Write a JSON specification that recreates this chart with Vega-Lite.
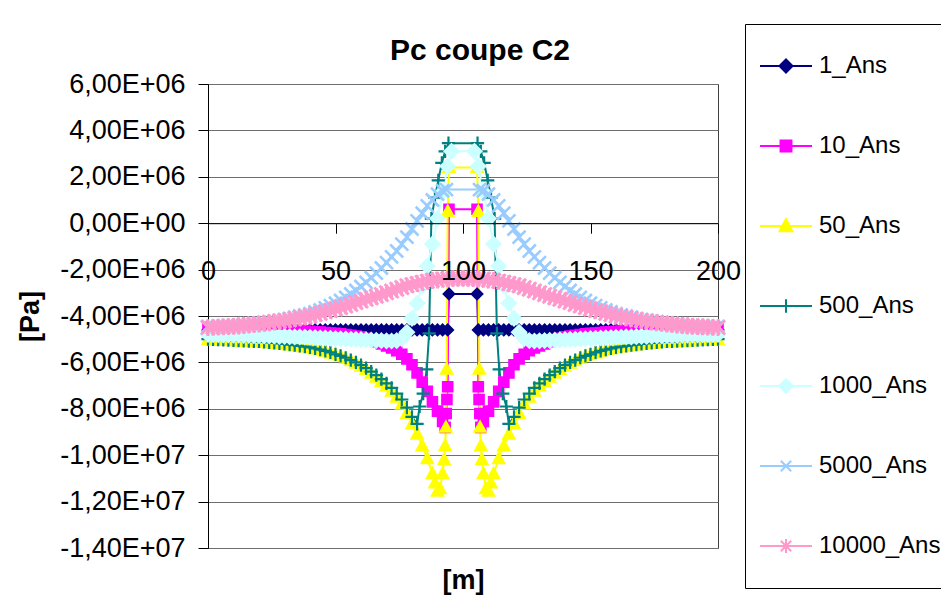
{
"$schema": "https://vega.github.io/schema/vega-lite/v6.json",
"width": 510, "height": 464,
"autosize": "none",
"padding": {"left": 208, "top": 84, "right": 223, "bottom": 58},
"background": "white",
"title": {"text": "Pc coupe C2", "fontSize": 30, "fontWeight": "bold", "font": "Liberation Sans", "color": "black", "anchor": "middle", "frame": "group", "offset": -42, "dx": 17},
"data": {"values": [
{"s":"1_Ans","x":0,"y":-4.6e6},{"s":"1_Ans","x":2,"y":-4.6e6},{"s":"1_Ans","x":4,"y":-4.6e6},{"s":"1_Ans","x":6,"y":-4.6e6},{"s":"1_Ans","x":8,"y":-4.6e6},{"s":"1_Ans","x":10,"y":-4.6e6},{"s":"1_Ans","x":12,"y":-4.6e6},{"s":"1_Ans","x":14,"y":-4.6e6},{"s":"1_Ans","x":16,"y":-4.6e6},{"s":"1_Ans","x":18,"y":-4.6e6},{"s":"1_Ans","x":20,"y":-4.6e6},{"s":"1_Ans","x":22,"y":-4.6e6},{"s":"1_Ans","x":24,"y":-4.6e6},{"s":"1_Ans","x":26,"y":-4.6e6},{"s":"1_Ans","x":28,"y":-4.6e6},{"s":"1_Ans","x":30,"y":-4.6e6},{"s":"1_Ans","x":32,"y":-4.6e6},{"s":"1_Ans","x":34,"y":-4.6e6},{"s":"1_Ans","x":36,"y":-4.6e6},{"s":"1_Ans","x":38,"y":-4.6e6},{"s":"1_Ans","x":40,"y":-4.6e6},{"s":"1_Ans","x":42,"y":-4.6e6},{"s":"1_Ans","x":44,"y":-4.6e6},{"s":"1_Ans","x":46,"y":-4.6e6},{"s":"1_Ans","x":48,"y":-4.6e6},{"s":"1_Ans","x":50,"y":-4.6e6},{"s":"1_Ans","x":52,"y":-4.6e6},{"s":"1_Ans","x":54,"y":-4.6e6},{"s":"1_Ans","x":56,"y":-4.6e6},{"s":"1_Ans","x":58,"y":-4.6e6},{"s":"1_Ans","x":60,"y":-4.6e6},{"s":"1_Ans","x":62,"y":-4.6e6},{"s":"1_Ans","x":64,"y":-4.6e6},{"s":"1_Ans","x":66,"y":-4.6e6},{"s":"1_Ans","x":68,"y":-4.6e6},{"s":"1_Ans","x":70,"y":-4.6e6},{"s":"1_Ans","x":72,"y":-4.6e6},{"s":"1_Ans","x":74,"y":-4.6e6},{"s":"1_Ans","x":76,"y":-4.6e6},{"s":"1_Ans","x":78,"y":-4.6e6},{"s":"1_Ans","x":80,"y":-4.6e6},{"s":"1_Ans","x":82,"y":-4.6e6},{"s":"1_Ans","x":84,"y":-4.6e6},{"s":"1_Ans","x":86,"y":-4.6e6},{"s":"1_Ans","x":88,"y":-4.6e6},{"s":"1_Ans","x":90,"y":-4.6e6},{"s":"1_Ans","x":92,"y":-4.6e6},{"s":"1_Ans","x":94,"y":-4.6e6},{"s":"1_Ans","x":94.5,"y":-3.05e6},{"s":"1_Ans","x":105.5,"y":-3.05e6},{"s":"1_Ans","x":106,"y":-4.6e6},{"s":"1_Ans","x":108,"y":-4.6e6},{"s":"1_Ans","x":110,"y":-4.6e6},{"s":"1_Ans","x":112,"y":-4.6e6},{"s":"1_Ans","x":114,"y":-4.6e6},{"s":"1_Ans","x":116,"y":-4.6e6},{"s":"1_Ans","x":118,"y":-4.6e6},{"s":"1_Ans","x":120,"y":-4.6e6},{"s":"1_Ans","x":122,"y":-4.6e6},{"s":"1_Ans","x":124,"y":-4.6e6},{"s":"1_Ans","x":126,"y":-4.6e6},{"s":"1_Ans","x":128,"y":-4.6e6},{"s":"1_Ans","x":130,"y":-4.6e6},{"s":"1_Ans","x":132,"y":-4.6e6},{"s":"1_Ans","x":134,"y":-4.6e6},{"s":"1_Ans","x":136,"y":-4.6e6},{"s":"1_Ans","x":138,"y":-4.6e6},{"s":"1_Ans","x":140,"y":-4.6e6},{"s":"1_Ans","x":142,"y":-4.6e6},{"s":"1_Ans","x":144,"y":-4.6e6},{"s":"1_Ans","x":146,"y":-4.6e6},{"s":"1_Ans","x":148,"y":-4.6e6},{"s":"1_Ans","x":150,"y":-4.6e6},{"s":"1_Ans","x":152,"y":-4.6e6},{"s":"1_Ans","x":154,"y":-4.6e6},{"s":"1_Ans","x":156,"y":-4.6e6},{"s":"1_Ans","x":158,"y":-4.6e6},{"s":"1_Ans","x":160,"y":-4.6e6},{"s":"1_Ans","x":162,"y":-4.6e6},{"s":"1_Ans","x":164,"y":-4.6e6},{"s":"1_Ans","x":166,"y":-4.6e6},{"s":"1_Ans","x":168,"y":-4.6e6},{"s":"1_Ans","x":170,"y":-4.6e6},{"s":"1_Ans","x":172,"y":-4.6e6},{"s":"1_Ans","x":174,"y":-4.6e6},{"s":"1_Ans","x":176,"y":-4.6e6},{"s":"1_Ans","x":178,"y":-4.6e6},{"s":"1_Ans","x":180,"y":-4.6e6},{"s":"1_Ans","x":182,"y":-4.6e6},{"s":"1_Ans","x":184,"y":-4.6e6},{"s":"1_Ans","x":186,"y":-4.6e6},{"s":"1_Ans","x":188,"y":-4.6e6},{"s":"1_Ans","x":190,"y":-4.6e6},{"s":"1_Ans","x":192,"y":-4.6e6},{"s":"1_Ans","x":194,"y":-4.6e6},{"s":"1_Ans","x":196,"y":-4.6e6},{"s":"1_Ans","x":198,"y":-4.6e6},{"s":"1_Ans","x":200,"y":-4.6e6},
{"s":"10_Ans","x":0,"y":-4.5e6},{"s":"10_Ans","x":2,"y":-4.5e6},{"s":"10_Ans","x":4,"y":-4.51e6},{"s":"10_Ans","x":6,"y":-4.51e6},{"s":"10_Ans","x":8,"y":-4.52e6},{"s":"10_Ans","x":10,"y":-4.52e6},{"s":"10_Ans","x":12,"y":-4.53e6},{"s":"10_Ans","x":14,"y":-4.53e6},{"s":"10_Ans","x":16,"y":-4.54e6},{"s":"10_Ans","x":18,"y":-4.54e6},{"s":"10_Ans","x":20,"y":-4.55e6},{"s":"10_Ans","x":22,"y":-4.56e6},{"s":"10_Ans","x":24,"y":-4.57e6},{"s":"10_Ans","x":26,"y":-4.58e6},{"s":"10_Ans","x":28,"y":-4.59e6},{"s":"10_Ans","x":30,"y":-4.6e6},{"s":"10_Ans","x":32,"y":-4.61e6},{"s":"10_Ans","x":34,"y":-4.62e6},{"s":"10_Ans","x":36,"y":-4.63e6},{"s":"10_Ans","x":38,"y":-4.65e6},{"s":"10_Ans","x":40,"y":-4.66e6},{"s":"10_Ans","x":42,"y":-4.68e6},{"s":"10_Ans","x":44,"y":-4.69e6},{"s":"10_Ans","x":46,"y":-4.71e6},{"s":"10_Ans","x":48,"y":-4.73e6},{"s":"10_Ans","x":50,"y":-4.75e6},{"s":"10_Ans","x":52,"y":-4.77e6},{"s":"10_Ans","x":54,"y":-4.8e6},{"s":"10_Ans","x":56,"y":-4.83e6},{"s":"10_Ans","x":58,"y":-4.86e6},{"s":"10_Ans","x":60,"y":-4.9e6},{"s":"10_Ans","x":62,"y":-4.96e6},{"s":"10_Ans","x":64,"y":-5.03e6},{"s":"10_Ans","x":66,"y":-5.11e6},{"s":"10_Ans","x":68,"y":-5.2e6},{"s":"10_Ans","x":70,"y":-5.29e6},{"s":"10_Ans","x":72,"y":-5.38e6},{"s":"10_Ans","x":74,"y":-5.5e6},{"s":"10_Ans","x":76,"y":-5.65e6},{"s":"10_Ans","x":78,"y":-5.85e6},{"s":"10_Ans","x":80,"y":-6.1e6},{"s":"10_Ans","x":82,"y":-6.45e6},{"s":"10_Ans","x":84,"y":-6.85e6},{"s":"10_Ans","x":86,"y":-7.25e6},{"s":"10_Ans","x":88,"y":-7.7e6},{"s":"10_Ans","x":90,"y":-8.1e6},{"s":"10_Ans","x":92,"y":-8.55e6},{"s":"10_Ans","x":93,"y":-8.8e6},{"s":"10_Ans","x":93.4,"y":-8.2e6},{"s":"10_Ans","x":93.7,"y":-7.6e6},{"s":"10_Ans","x":94,"y":-7.05e6},{"s":"10_Ans","x":94.5,"y":0.6e6},{"s":"10_Ans","x":105.5,"y":0.6e6},{"s":"10_Ans","x":106,"y":-7.05e6},{"s":"10_Ans","x":106.3,"y":-7.6e6},{"s":"10_Ans","x":106.6,"y":-8.2e6},{"s":"10_Ans","x":107,"y":-8.8e6},{"s":"10_Ans","x":108,"y":-8.55e6},{"s":"10_Ans","x":110,"y":-8.1e6},{"s":"10_Ans","x":112,"y":-7.7e6},{"s":"10_Ans","x":114,"y":-7.25e6},{"s":"10_Ans","x":116,"y":-6.85e6},{"s":"10_Ans","x":118,"y":-6.45e6},{"s":"10_Ans","x":120,"y":-6.1e6},{"s":"10_Ans","x":122,"y":-5.85e6},{"s":"10_Ans","x":124,"y":-5.65e6},{"s":"10_Ans","x":126,"y":-5.5e6},{"s":"10_Ans","x":128,"y":-5.38e6},{"s":"10_Ans","x":130,"y":-5.29e6},{"s":"10_Ans","x":132,"y":-5.2e6},{"s":"10_Ans","x":134,"y":-5.11e6},{"s":"10_Ans","x":136,"y":-5.03e6},{"s":"10_Ans","x":138,"y":-4.96e6},{"s":"10_Ans","x":140,"y":-4.9e6},{"s":"10_Ans","x":142,"y":-4.86e6},{"s":"10_Ans","x":144,"y":-4.83e6},{"s":"10_Ans","x":146,"y":-4.8e6},{"s":"10_Ans","x":148,"y":-4.77e6},{"s":"10_Ans","x":150,"y":-4.75e6},{"s":"10_Ans","x":152,"y":-4.73e6},{"s":"10_Ans","x":154,"y":-4.71e6},{"s":"10_Ans","x":156,"y":-4.69e6},{"s":"10_Ans","x":158,"y":-4.68e6},{"s":"10_Ans","x":160,"y":-4.66e6},{"s":"10_Ans","x":162,"y":-4.65e6},{"s":"10_Ans","x":164,"y":-4.63e6},{"s":"10_Ans","x":166,"y":-4.62e6},{"s":"10_Ans","x":168,"y":-4.61e6},{"s":"10_Ans","x":170,"y":-4.6e6},{"s":"10_Ans","x":172,"y":-4.59e6},{"s":"10_Ans","x":174,"y":-4.58e6},{"s":"10_Ans","x":176,"y":-4.57e6},{"s":"10_Ans","x":178,"y":-4.56e6},{"s":"10_Ans","x":180,"y":-4.55e6},{"s":"10_Ans","x":182,"y":-4.54e6},{"s":"10_Ans","x":184,"y":-4.54e6},{"s":"10_Ans","x":186,"y":-4.53e6},{"s":"10_Ans","x":188,"y":-4.53e6},{"s":"10_Ans","x":190,"y":-4.52e6},{"s":"10_Ans","x":192,"y":-4.52e6},{"s":"10_Ans","x":194,"y":-4.51e6},{"s":"10_Ans","x":196,"y":-4.51e6},{"s":"10_Ans","x":198,"y":-4.5e6},{"s":"10_Ans","x":200,"y":-4.5e6},
{"s":"50_Ans","x":0,"y":-5.02e6},{"s":"50_Ans","x":2,"y":-5.03e6},{"s":"50_Ans","x":4,"y":-5.04e6},{"s":"50_Ans","x":6,"y":-5.05e6},{"s":"50_Ans","x":8,"y":-5.06e6},{"s":"50_Ans","x":10,"y":-5.07e6},{"s":"50_Ans","x":12,"y":-5.08e6},{"s":"50_Ans","x":14,"y":-5.09e6},{"s":"50_Ans","x":16,"y":-5.1e6},{"s":"50_Ans","x":18,"y":-5.11e6},{"s":"50_Ans","x":20,"y":-5.12e6},{"s":"50_Ans","x":22,"y":-5.14e6},{"s":"50_Ans","x":24,"y":-5.16e6},{"s":"50_Ans","x":26,"y":-5.18e6},{"s":"50_Ans","x":28,"y":-5.2e6},{"s":"50_Ans","x":30,"y":-5.22e6},{"s":"50_Ans","x":32,"y":-5.25e6},{"s":"50_Ans","x":34,"y":-5.28e6},{"s":"50_Ans","x":36,"y":-5.31e6},{"s":"50_Ans","x":38,"y":-5.34e6},{"s":"50_Ans","x":40,"y":-5.37e6},{"s":"50_Ans","x":42,"y":-5.42e6},{"s":"50_Ans","x":44,"y":-5.47e6},{"s":"50_Ans","x":46,"y":-5.52e6},{"s":"50_Ans","x":48,"y":-5.59e6},{"s":"50_Ans","x":50,"y":-5.67e6},{"s":"50_Ans","x":52,"y":-5.74e6},{"s":"50_Ans","x":54,"y":-5.83e6},{"s":"50_Ans","x":56,"y":-5.93e6},{"s":"50_Ans","x":58,"y":-6.04e6},{"s":"50_Ans","x":60,"y":-6.17e6},{"s":"50_Ans","x":62,"y":-6.31e6},{"s":"50_Ans","x":64,"y":-6.47e6},{"s":"50_Ans","x":66,"y":-6.64e6},{"s":"50_Ans","x":68,"y":-6.82e6},{"s":"50_Ans","x":70,"y":-7.02e6},{"s":"50_Ans","x":72,"y":-7.24e6},{"s":"50_Ans","x":74,"y":-7.5e6},{"s":"50_Ans","x":76,"y":-7.8e6},{"s":"50_Ans","x":78,"y":-8.2e6},{"s":"50_Ans","x":80,"y":-8.65e6},{"s":"50_Ans","x":82,"y":-9.1e6},{"s":"50_Ans","x":84,"y":-9.6e6},{"s":"50_Ans","x":86,"y":-10.15e6},{"s":"50_Ans","x":88,"y":-10.8e6},{"s":"50_Ans","x":89,"y":-11.2e6},{"s":"50_Ans","x":90,"y":-11.55e6},{"s":"50_Ans","x":91,"y":-11.45e6},{"s":"50_Ans","x":92,"y":-10.8e6},{"s":"50_Ans","x":92.6,"y":-10.2e6},{"s":"50_Ans","x":93,"y":-9.6e6},{"s":"50_Ans","x":93.3,"y":-8.8e6},{"s":"50_Ans","x":93.6,"y":-6.3e6},{"s":"50_Ans","x":94,"y":0.5e6},{"s":"50_Ans","x":94.5,"y":2.4e6},{"s":"50_Ans","x":105.5,"y":2.4e6},{"s":"50_Ans","x":106,"y":0.5e6},{"s":"50_Ans","x":106.4,"y":-6.3e6},{"s":"50_Ans","x":106.7,"y":-8.8e6},{"s":"50_Ans","x":107,"y":-9.6e6},{"s":"50_Ans","x":107.4,"y":-10.2e6},{"s":"50_Ans","x":108,"y":-10.8e6},{"s":"50_Ans","x":109,"y":-11.45e6},{"s":"50_Ans","x":110,"y":-11.55e6},{"s":"50_Ans","x":111,"y":-11.2e6},{"s":"50_Ans","x":112,"y":-10.8e6},{"s":"50_Ans","x":114,"y":-10.15e6},{"s":"50_Ans","x":116,"y":-9.6e6},{"s":"50_Ans","x":118,"y":-9.1e6},{"s":"50_Ans","x":120,"y":-8.65e6},{"s":"50_Ans","x":122,"y":-8.2e6},{"s":"50_Ans","x":124,"y":-7.8e6},{"s":"50_Ans","x":126,"y":-7.5e6},{"s":"50_Ans","x":128,"y":-7.24e6},{"s":"50_Ans","x":130,"y":-7.02e6},{"s":"50_Ans","x":132,"y":-6.82e6},{"s":"50_Ans","x":134,"y":-6.64e6},{"s":"50_Ans","x":136,"y":-6.47e6},{"s":"50_Ans","x":138,"y":-6.31e6},{"s":"50_Ans","x":140,"y":-6.17e6},{"s":"50_Ans","x":142,"y":-6.04e6},{"s":"50_Ans","x":144,"y":-5.93e6},{"s":"50_Ans","x":146,"y":-5.83e6},{"s":"50_Ans","x":148,"y":-5.74e6},{"s":"50_Ans","x":150,"y":-5.67e6},{"s":"50_Ans","x":152,"y":-5.59e6},{"s":"50_Ans","x":154,"y":-5.52e6},{"s":"50_Ans","x":156,"y":-5.47e6},{"s":"50_Ans","x":158,"y":-5.42e6},{"s":"50_Ans","x":160,"y":-5.37e6},{"s":"50_Ans","x":162,"y":-5.34e6},{"s":"50_Ans","x":164,"y":-5.31e6},{"s":"50_Ans","x":166,"y":-5.28e6},{"s":"50_Ans","x":168,"y":-5.25e6},{"s":"50_Ans","x":170,"y":-5.22e6},{"s":"50_Ans","x":172,"y":-5.2e6},{"s":"50_Ans","x":174,"y":-5.18e6},{"s":"50_Ans","x":176,"y":-5.16e6},{"s":"50_Ans","x":178,"y":-5.14e6},{"s":"50_Ans","x":180,"y":-5.12e6},{"s":"50_Ans","x":182,"y":-5.11e6},{"s":"50_Ans","x":184,"y":-5.1e6},{"s":"50_Ans","x":186,"y":-5.09e6},{"s":"50_Ans","x":188,"y":-5.08e6},{"s":"50_Ans","x":190,"y":-5.07e6},{"s":"50_Ans","x":192,"y":-5.06e6},{"s":"50_Ans","x":194,"y":-5.05e6},{"s":"50_Ans","x":196,"y":-5.04e6},{"s":"50_Ans","x":198,"y":-5.03e6},{"s":"50_Ans","x":200,"y":-5.02e6},
{"s":"500_Ans","x":0,"y":-5e6},{"s":"500_Ans","x":2,"y":-5.01e6},{"s":"500_Ans","x":4,"y":-5.02e6},{"s":"500_Ans","x":6,"y":-5.03e6},{"s":"500_Ans","x":8,"y":-5.04e6},{"s":"500_Ans","x":10,"y":-5.05e6},{"s":"500_Ans","x":12,"y":-5.06e6},{"s":"500_Ans","x":14,"y":-5.07e6},{"s":"500_Ans","x":16,"y":-5.08e6},{"s":"500_Ans","x":18,"y":-5.09e6},{"s":"500_Ans","x":20,"y":-5.1e6},{"s":"500_Ans","x":22,"y":-5.12e6},{"s":"500_Ans","x":24,"y":-5.14e6},{"s":"500_Ans","x":26,"y":-5.16e6},{"s":"500_Ans","x":28,"y":-5.18e6},{"s":"500_Ans","x":30,"y":-5.2e6},{"s":"500_Ans","x":32,"y":-5.23e6},{"s":"500_Ans","x":34,"y":-5.26e6},{"s":"500_Ans","x":36,"y":-5.29e6},{"s":"500_Ans","x":38,"y":-5.32e6},{"s":"500_Ans","x":40,"y":-5.35e6},{"s":"500_Ans","x":42,"y":-5.4e6},{"s":"500_Ans","x":44,"y":-5.45e6},{"s":"500_Ans","x":46,"y":-5.5e6},{"s":"500_Ans","x":48,"y":-5.57e6},{"s":"500_Ans","x":50,"y":-5.65e6},{"s":"500_Ans","x":52,"y":-5.72e6},{"s":"500_Ans","x":54,"y":-5.8e6},{"s":"500_Ans","x":56,"y":-5.9e6},{"s":"500_Ans","x":58,"y":-6e6},{"s":"500_Ans","x":60,"y":-6.12e6},{"s":"500_Ans","x":62,"y":-6.25e6},{"s":"500_Ans","x":64,"y":-6.4e6},{"s":"500_Ans","x":66,"y":-6.55e6},{"s":"500_Ans","x":68,"y":-6.72e6},{"s":"500_Ans","x":70,"y":-6.9e6},{"s":"500_Ans","x":72,"y":-7.1e6},{"s":"500_Ans","x":74,"y":-7.35e6},{"s":"500_Ans","x":76,"y":-7.6e6},{"s":"500_Ans","x":78,"y":-7.95e6},{"s":"500_Ans","x":80,"y":-8.35e6},{"s":"500_Ans","x":82,"y":-8.65e6},{"s":"500_Ans","x":83,"y":-7.9e6},{"s":"500_Ans","x":84.4,"y":-7.35e6},{"s":"500_Ans","x":85.8,"y":-6.3e6},{"s":"500_Ans","x":86.7,"y":-4.75e6},{"s":"500_Ans","x":87.6,"y":0.2e6},{"s":"500_Ans","x":89,"y":1.1e6},{"s":"500_Ans","x":90.3,"y":1.85e6},{"s":"500_Ans","x":91.7,"y":2.6e6},{"s":"500_Ans","x":93,"y":3.1e6},{"s":"500_Ans","x":94.3,"y":3.45e6},{"s":"500_Ans","x":105.7,"y":3.45e6},{"s":"500_Ans","x":107,"y":3.1e6},{"s":"500_Ans","x":108.3,"y":2.6e6},{"s":"500_Ans","x":109.7,"y":1.85e6},{"s":"500_Ans","x":111,"y":1.1e6},{"s":"500_Ans","x":112.4,"y":0.2e6},{"s":"500_Ans","x":113.3,"y":-4.75e6},{"s":"500_Ans","x":114.2,"y":-6.3e6},{"s":"500_Ans","x":115.6,"y":-7.35e6},{"s":"500_Ans","x":117,"y":-7.9e6},{"s":"500_Ans","x":118,"y":-8.65e6},{"s":"500_Ans","x":120,"y":-8.35e6},{"s":"500_Ans","x":122,"y":-7.95e6},{"s":"500_Ans","x":124,"y":-7.6e6},{"s":"500_Ans","x":126,"y":-7.35e6},{"s":"500_Ans","x":128,"y":-7.1e6},{"s":"500_Ans","x":130,"y":-6.9e6},{"s":"500_Ans","x":132,"y":-6.72e6},{"s":"500_Ans","x":134,"y":-6.55e6},{"s":"500_Ans","x":136,"y":-6.4e6},{"s":"500_Ans","x":138,"y":-6.25e6},{"s":"500_Ans","x":140,"y":-6.12e6},{"s":"500_Ans","x":142,"y":-6e6},{"s":"500_Ans","x":144,"y":-5.9e6},{"s":"500_Ans","x":146,"y":-5.8e6},{"s":"500_Ans","x":148,"y":-5.72e6},{"s":"500_Ans","x":150,"y":-5.65e6},{"s":"500_Ans","x":152,"y":-5.57e6},{"s":"500_Ans","x":154,"y":-5.5e6},{"s":"500_Ans","x":156,"y":-5.45e6},{"s":"500_Ans","x":158,"y":-5.4e6},{"s":"500_Ans","x":160,"y":-5.35e6},{"s":"500_Ans","x":162,"y":-5.32e6},{"s":"500_Ans","x":164,"y":-5.29e6},{"s":"500_Ans","x":166,"y":-5.26e6},{"s":"500_Ans","x":168,"y":-5.23e6},{"s":"500_Ans","x":170,"y":-5.2e6},{"s":"500_Ans","x":172,"y":-5.18e6},{"s":"500_Ans","x":174,"y":-5.16e6},{"s":"500_Ans","x":176,"y":-5.14e6},{"s":"500_Ans","x":178,"y":-5.12e6},{"s":"500_Ans","x":180,"y":-5.1e6},{"s":"500_Ans","x":182,"y":-5.09e6},{"s":"500_Ans","x":184,"y":-5.08e6},{"s":"500_Ans","x":186,"y":-5.07e6},{"s":"500_Ans","x":188,"y":-5.06e6},{"s":"500_Ans","x":190,"y":-5.05e6},{"s":"500_Ans","x":192,"y":-5.04e6},{"s":"500_Ans","x":194,"y":-5.03e6},{"s":"500_Ans","x":196,"y":-5.02e6},{"s":"500_Ans","x":198,"y":-5.01e6},{"s":"500_Ans","x":200,"y":-5e6},
{"s":"1000_Ans","x":0,"y":-4.8e6},{"s":"1000_Ans","x":2,"y":-4.81e6},{"s":"1000_Ans","x":4,"y":-4.81e6},{"s":"1000_Ans","x":6,"y":-4.82e6},{"s":"1000_Ans","x":8,"y":-4.82e6},{"s":"1000_Ans","x":10,"y":-4.83e6},{"s":"1000_Ans","x":12,"y":-4.83e6},{"s":"1000_Ans","x":14,"y":-4.84e6},{"s":"1000_Ans","x":16,"y":-4.84e6},{"s":"1000_Ans","x":18,"y":-4.85e6},{"s":"1000_Ans","x":20,"y":-4.85e6},{"s":"1000_Ans","x":22,"y":-4.86e6},{"s":"1000_Ans","x":24,"y":-4.86e6},{"s":"1000_Ans","x":26,"y":-4.87e6},{"s":"1000_Ans","x":28,"y":-4.88e6},{"s":"1000_Ans","x":30,"y":-4.88e6},{"s":"1000_Ans","x":32,"y":-4.89e6},{"s":"1000_Ans","x":34,"y":-4.9e6},{"s":"1000_Ans","x":36,"y":-4.9e6},{"s":"1000_Ans","x":38,"y":-4.91e6},{"s":"1000_Ans","x":40,"y":-4.92e6},{"s":"1000_Ans","x":42,"y":-4.93e6},{"s":"1000_Ans","x":44,"y":-4.94e6},{"s":"1000_Ans","x":46,"y":-4.95e6},{"s":"1000_Ans","x":48,"y":-4.96e6},{"s":"1000_Ans","x":50,"y":-4.97e6},{"s":"1000_Ans","x":52,"y":-4.98e6},{"s":"1000_Ans","x":54,"y":-4.99e6},{"s":"1000_Ans","x":56,"y":-5e6},{"s":"1000_Ans","x":58,"y":-5.01e6},{"s":"1000_Ans","x":60,"y":-5.02e6},{"s":"1000_Ans","x":62,"y":-5.03e6},{"s":"1000_Ans","x":64,"y":-5.04e6},{"s":"1000_Ans","x":66,"y":-5.05e6},{"s":"1000_Ans","x":68,"y":-5.06e6},{"s":"1000_Ans","x":70,"y":-5.07e6},{"s":"1000_Ans","x":72,"y":-5.08e6},{"s":"1000_Ans","x":74,"y":-5.06e6},{"s":"1000_Ans","x":76,"y":-4.98e6},{"s":"1000_Ans","x":78,"y":-4.7e6},{"s":"1000_Ans","x":80,"y":-4.1e6},{"s":"1000_Ans","x":82,"y":-3.45e6},{"s":"1000_Ans","x":84,"y":-2.7e6},{"s":"1000_Ans","x":86,"y":-1.85e6},{"s":"1000_Ans","x":88,"y":-0.9e6},{"s":"1000_Ans","x":90,"y":0.2e6},{"s":"1000_Ans","x":92,"y":1.35e6},{"s":"1000_Ans","x":94,"y":2.45e6},{"s":"1000_Ans","x":95.5,"y":3.1e6},{"s":"1000_Ans","x":104.5,"y":3.1e6},{"s":"1000_Ans","x":106,"y":2.45e6},{"s":"1000_Ans","x":108,"y":1.35e6},{"s":"1000_Ans","x":110,"y":0.2e6},{"s":"1000_Ans","x":112,"y":-0.9e6},{"s":"1000_Ans","x":114,"y":-1.85e6},{"s":"1000_Ans","x":116,"y":-2.7e6},{"s":"1000_Ans","x":118,"y":-3.45e6},{"s":"1000_Ans","x":120,"y":-4.1e6},{"s":"1000_Ans","x":122,"y":-4.7e6},{"s":"1000_Ans","x":124,"y":-4.98e6},{"s":"1000_Ans","x":126,"y":-5.06e6},{"s":"1000_Ans","x":128,"y":-5.08e6},{"s":"1000_Ans","x":130,"y":-5.07e6},{"s":"1000_Ans","x":132,"y":-5.06e6},{"s":"1000_Ans","x":134,"y":-5.05e6},{"s":"1000_Ans","x":136,"y":-5.04e6},{"s":"1000_Ans","x":138,"y":-5.03e6},{"s":"1000_Ans","x":140,"y":-5.02e6},{"s":"1000_Ans","x":142,"y":-5.01e6},{"s":"1000_Ans","x":144,"y":-5e6},{"s":"1000_Ans","x":146,"y":-4.99e6},{"s":"1000_Ans","x":148,"y":-4.98e6},{"s":"1000_Ans","x":150,"y":-4.97e6},{"s":"1000_Ans","x":152,"y":-4.96e6},{"s":"1000_Ans","x":154,"y":-4.95e6},{"s":"1000_Ans","x":156,"y":-4.94e6},{"s":"1000_Ans","x":158,"y":-4.93e6},{"s":"1000_Ans","x":160,"y":-4.92e6},{"s":"1000_Ans","x":162,"y":-4.91e6},{"s":"1000_Ans","x":164,"y":-4.9e6},{"s":"1000_Ans","x":166,"y":-4.9e6},{"s":"1000_Ans","x":168,"y":-4.89e6},{"s":"1000_Ans","x":170,"y":-4.88e6},{"s":"1000_Ans","x":172,"y":-4.88e6},{"s":"1000_Ans","x":174,"y":-4.87e6},{"s":"1000_Ans","x":176,"y":-4.86e6},{"s":"1000_Ans","x":178,"y":-4.86e6},{"s":"1000_Ans","x":180,"y":-4.85e6},{"s":"1000_Ans","x":182,"y":-4.85e6},{"s":"1000_Ans","x":184,"y":-4.84e6},{"s":"1000_Ans","x":186,"y":-4.84e6},{"s":"1000_Ans","x":188,"y":-4.83e6},{"s":"1000_Ans","x":190,"y":-4.83e6},{"s":"1000_Ans","x":192,"y":-4.82e6},{"s":"1000_Ans","x":194,"y":-4.82e6},{"s":"1000_Ans","x":196,"y":-4.81e6},{"s":"1000_Ans","x":198,"y":-4.81e6},{"s":"1000_Ans","x":200,"y":-4.8e6},
{"s":"5000_Ans","x":0,"y":-4.45e6},{"s":"5000_Ans","x":2,"y":-4.44e6},{"s":"5000_Ans","x":4,"y":-4.43e6},{"s":"5000_Ans","x":6,"y":-4.42e6},{"s":"5000_Ans","x":8,"y":-4.41e6},{"s":"5000_Ans","x":10,"y":-4.4e6},{"s":"5000_Ans","x":12,"y":-4.38e6},{"s":"5000_Ans","x":14,"y":-4.36e6},{"s":"5000_Ans","x":16,"y":-4.34e6},{"s":"5000_Ans","x":18,"y":-4.32e6},{"s":"5000_Ans","x":20,"y":-4.3e6},{"s":"5000_Ans","x":22,"y":-4.27e6},{"s":"5000_Ans","x":24,"y":-4.24e6},{"s":"5000_Ans","x":26,"y":-4.21e6},{"s":"5000_Ans","x":28,"y":-4.18e6},{"s":"5000_Ans","x":30,"y":-4.15e6},{"s":"5000_Ans","x":32,"y":-4.1e6},{"s":"5000_Ans","x":34,"y":-4.05e6},{"s":"5000_Ans","x":36,"y":-4e6},{"s":"5000_Ans","x":38,"y":-3.95e6},{"s":"5000_Ans","x":40,"y":-3.9e6},{"s":"5000_Ans","x":42,"y":-3.82e6},{"s":"5000_Ans","x":44,"y":-3.74e6},{"s":"5000_Ans","x":46,"y":-3.65e6},{"s":"5000_Ans","x":48,"y":-3.55e6},{"s":"5000_Ans","x":50,"y":-3.45e6},{"s":"5000_Ans","x":52,"y":-3.33e6},{"s":"5000_Ans","x":54,"y":-3.2e6},{"s":"5000_Ans","x":56,"y":-3.05e6},{"s":"5000_Ans","x":58,"y":-2.9e6},{"s":"5000_Ans","x":60,"y":-2.73e6},{"s":"5000_Ans","x":62,"y":-2.55e6},{"s":"5000_Ans","x":64,"y":-2.35e6},{"s":"5000_Ans","x":66,"y":-2.15e6},{"s":"5000_Ans","x":68,"y":-1.93e6},{"s":"5000_Ans","x":70,"y":-1.7e6},{"s":"5000_Ans","x":72,"y":-1.45e6},{"s":"5000_Ans","x":74,"y":-1.2e6},{"s":"5000_Ans","x":76,"y":-0.9e6},{"s":"5000_Ans","x":78,"y":-0.6e6},{"s":"5000_Ans","x":80,"y":-0.25e6},{"s":"5000_Ans","x":82,"y":0.1e6},{"s":"5000_Ans","x":84,"y":0.43e6},{"s":"5000_Ans","x":86,"y":0.75e6},{"s":"5000_Ans","x":88,"y":1e6},{"s":"5000_Ans","x":90,"y":1.25e6},{"s":"5000_Ans","x":92,"y":1.4e6},{"s":"5000_Ans","x":93.5,"y":1.45e6},{"s":"5000_Ans","x":106.5,"y":1.45e6},{"s":"5000_Ans","x":108,"y":1.4e6},{"s":"5000_Ans","x":110,"y":1.25e6},{"s":"5000_Ans","x":112,"y":1e6},{"s":"5000_Ans","x":114,"y":0.75e6},{"s":"5000_Ans","x":116,"y":0.43e6},{"s":"5000_Ans","x":118,"y":0.1e6},{"s":"5000_Ans","x":120,"y":-0.25e6},{"s":"5000_Ans","x":122,"y":-0.6e6},{"s":"5000_Ans","x":124,"y":-0.9e6},{"s":"5000_Ans","x":126,"y":-1.2e6},{"s":"5000_Ans","x":128,"y":-1.45e6},{"s":"5000_Ans","x":130,"y":-1.7e6},{"s":"5000_Ans","x":132,"y":-1.93e6},{"s":"5000_Ans","x":134,"y":-2.15e6},{"s":"5000_Ans","x":136,"y":-2.35e6},{"s":"5000_Ans","x":138,"y":-2.55e6},{"s":"5000_Ans","x":140,"y":-2.73e6},{"s":"5000_Ans","x":142,"y":-2.9e6},{"s":"5000_Ans","x":144,"y":-3.05e6},{"s":"5000_Ans","x":146,"y":-3.2e6},{"s":"5000_Ans","x":148,"y":-3.33e6},{"s":"5000_Ans","x":150,"y":-3.45e6},{"s":"5000_Ans","x":152,"y":-3.55e6},{"s":"5000_Ans","x":154,"y":-3.65e6},{"s":"5000_Ans","x":156,"y":-3.74e6},{"s":"5000_Ans","x":158,"y":-3.82e6},{"s":"5000_Ans","x":160,"y":-3.9e6},{"s":"5000_Ans","x":162,"y":-3.95e6},{"s":"5000_Ans","x":164,"y":-4e6},{"s":"5000_Ans","x":166,"y":-4.05e6},{"s":"5000_Ans","x":168,"y":-4.1e6},{"s":"5000_Ans","x":170,"y":-4.15e6},{"s":"5000_Ans","x":172,"y":-4.18e6},{"s":"5000_Ans","x":174,"y":-4.21e6},{"s":"5000_Ans","x":176,"y":-4.24e6},{"s":"5000_Ans","x":178,"y":-4.27e6},{"s":"5000_Ans","x":180,"y":-4.3e6},{"s":"5000_Ans","x":182,"y":-4.32e6},{"s":"5000_Ans","x":184,"y":-4.34e6},{"s":"5000_Ans","x":186,"y":-4.36e6},{"s":"5000_Ans","x":188,"y":-4.38e6},{"s":"5000_Ans","x":190,"y":-4.4e6},{"s":"5000_Ans","x":192,"y":-4.41e6},{"s":"5000_Ans","x":194,"y":-4.42e6},{"s":"5000_Ans","x":196,"y":-4.43e6},{"s":"5000_Ans","x":198,"y":-4.44e6},{"s":"5000_Ans","x":200,"y":-4.45e6},
{"s":"10000_Ans","x":0,"y":-4.5e6},{"s":"10000_Ans","x":2,"y":-4.49e6},{"s":"10000_Ans","x":4,"y":-4.48e6},{"s":"10000_Ans","x":6,"y":-4.47e6},{"s":"10000_Ans","x":8,"y":-4.46e6},{"s":"10000_Ans","x":10,"y":-4.45e6},{"s":"10000_Ans","x":12,"y":-4.43e6},{"s":"10000_Ans","x":14,"y":-4.41e6},{"s":"10000_Ans","x":16,"y":-4.39e6},{"s":"10000_Ans","x":18,"y":-4.37e6},{"s":"10000_Ans","x":20,"y":-4.35e6},{"s":"10000_Ans","x":22,"y":-4.32e6},{"s":"10000_Ans","x":24,"y":-4.29e6},{"s":"10000_Ans","x":26,"y":-4.26e6},{"s":"10000_Ans","x":28,"y":-4.23e6},{"s":"10000_Ans","x":30,"y":-4.2e6},{"s":"10000_Ans","x":32,"y":-4.16e6},{"s":"10000_Ans","x":34,"y":-4.12e6},{"s":"10000_Ans","x":36,"y":-4.08e6},{"s":"10000_Ans","x":38,"y":-4.04e6},{"s":"10000_Ans","x":40,"y":-4e6},{"s":"10000_Ans","x":42,"y":-3.94e6},{"s":"10000_Ans","x":44,"y":-3.88e6},{"s":"10000_Ans","x":46,"y":-3.82e6},{"s":"10000_Ans","x":48,"y":-3.76e6},{"s":"10000_Ans","x":50,"y":-3.7e6},{"s":"10000_Ans","x":52,"y":-3.63e6},{"s":"10000_Ans","x":54,"y":-3.57e6},{"s":"10000_Ans","x":56,"y":-3.5e6},{"s":"10000_Ans","x":58,"y":-3.42e6},{"s":"10000_Ans","x":60,"y":-3.35e6},{"s":"10000_Ans","x":62,"y":-3.28e6},{"s":"10000_Ans","x":64,"y":-3.21e6},{"s":"10000_Ans","x":66,"y":-3.15e6},{"s":"10000_Ans","x":68,"y":-3.07e6},{"s":"10000_Ans","x":70,"y":-3e6},{"s":"10000_Ans","x":72,"y":-2.92e6},{"s":"10000_Ans","x":74,"y":-2.85e6},{"s":"10000_Ans","x":76,"y":-2.77e6},{"s":"10000_Ans","x":78,"y":-2.7e6},{"s":"10000_Ans","x":80,"y":-2.65e6},{"s":"10000_Ans","x":82,"y":-2.6e6},{"s":"10000_Ans","x":84,"y":-2.55e6},{"s":"10000_Ans","x":86,"y":-2.5e6},{"s":"10000_Ans","x":88,"y":-2.47e6},{"s":"10000_Ans","x":90,"y":-2.45e6},{"s":"10000_Ans","x":92,"y":-2.42e6},{"s":"10000_Ans","x":94,"y":-2.4e6},{"s":"10000_Ans","x":96,"y":-2.39e6},{"s":"10000_Ans","x":98,"y":-2.38e6},{"s":"10000_Ans","x":100,"y":-2.38e6},{"s":"10000_Ans","x":102,"y":-2.38e6},{"s":"10000_Ans","x":104,"y":-2.39e6},{"s":"10000_Ans","x":106,"y":-2.4e6},{"s":"10000_Ans","x":108,"y":-2.42e6},{"s":"10000_Ans","x":110,"y":-2.45e6},{"s":"10000_Ans","x":112,"y":-2.47e6},{"s":"10000_Ans","x":114,"y":-2.5e6},{"s":"10000_Ans","x":116,"y":-2.55e6},{"s":"10000_Ans","x":118,"y":-2.6e6},{"s":"10000_Ans","x":120,"y":-2.65e6},{"s":"10000_Ans","x":122,"y":-2.7e6},{"s":"10000_Ans","x":124,"y":-2.77e6},{"s":"10000_Ans","x":126,"y":-2.85e6},{"s":"10000_Ans","x":128,"y":-2.92e6},{"s":"10000_Ans","x":130,"y":-3e6},{"s":"10000_Ans","x":132,"y":-3.07e6},{"s":"10000_Ans","x":134,"y":-3.15e6},{"s":"10000_Ans","x":136,"y":-3.21e6},{"s":"10000_Ans","x":138,"y":-3.28e6},{"s":"10000_Ans","x":140,"y":-3.35e6},{"s":"10000_Ans","x":142,"y":-3.42e6},{"s":"10000_Ans","x":144,"y":-3.5e6},{"s":"10000_Ans","x":146,"y":-3.57e6},{"s":"10000_Ans","x":148,"y":-3.63e6},{"s":"10000_Ans","x":150,"y":-3.7e6},{"s":"10000_Ans","x":152,"y":-3.76e6},{"s":"10000_Ans","x":154,"y":-3.82e6},{"s":"10000_Ans","x":156,"y":-3.88e6},{"s":"10000_Ans","x":158,"y":-3.94e6},{"s":"10000_Ans","x":160,"y":-4e6},{"s":"10000_Ans","x":162,"y":-4.04e6},{"s":"10000_Ans","x":164,"y":-4.08e6},{"s":"10000_Ans","x":166,"y":-4.12e6},{"s":"10000_Ans","x":168,"y":-4.16e6},{"s":"10000_Ans","x":170,"y":-4.2e6},{"s":"10000_Ans","x":172,"y":-4.23e6},{"s":"10000_Ans","x":174,"y":-4.26e6},{"s":"10000_Ans","x":176,"y":-4.29e6},{"s":"10000_Ans","x":178,"y":-4.32e6},{"s":"10000_Ans","x":180,"y":-4.35e6},{"s":"10000_Ans","x":182,"y":-4.37e6},{"s":"10000_Ans","x":184,"y":-4.39e6},{"s":"10000_Ans","x":186,"y":-4.41e6},{"s":"10000_Ans","x":188,"y":-4.43e6},{"s":"10000_Ans","x":190,"y":-4.45e6},{"s":"10000_Ans","x":192,"y":-4.46e6},{"s":"10000_Ans","x":194,"y":-4.47e6},{"s":"10000_Ans","x":196,"y":-4.48e6},{"s":"10000_Ans","x":198,"y":-4.49e6},{"s":"10000_Ans","x":200,"y":-4.5e6}
]},
"encoding": {
  "x": {"field": "x", "type": "quantitative", "scale": {"domain": [0, 200], "nice": false, "zero": false},
    "axis": {"title": "[m]", "values": [0, 50, 100, 150, 200], "format": "d", "offset": -324.8, "grid": false, "domainColor": "black", "domainWidth": 1, "tickColor": "black", "tickSize": 10, "tickWidth": 1, "labelFontSize": 27, "labelFont": "Liberation Sans", "labelColor": "black", "labelPadding": 25, "labelFlush": false, "labelOverlap": false, "titleFontSize": 27, "titleFont": "Liberation Sans", "titleFontWeight": "bold", "titleColor": "black", "titleY": 364.8, "titleBaseline": "alphabetic", "zindex": 1}},
  "y": {"field": "y", "type": "quantitative", "scale": {"domain": [-14000000, 6000000], "nice": false, "zero": false},
    "axis": {"title": "[Pa]", "values": [-14000000, -12000000, -10000000, -8000000, -6000000, -4000000, -2000000, 0, 2000000, 4000000, 6000000], "grid": true, "gridColor": "#6e6e6e", "gridWidth": 1, "domainColor": "black", "tickColor": "black", "tickSize": 10, "labelFontSize": 27, "labelFont": "Liberation Sans", "labelColor": "black", "labelPadding": 13, "labelFlush": false, "labelOverlap": false,
      "labelExpr": "datum.value == 0 ? '0,00E+00' : (datum.value < 0 ? '-' : '') + replace(format(abs(datum.value) / pow(10, floor(log(abs(datum.value)) / LN10 + 1e-9)), '.2f'), '.', ',') + 'E+' + format(floor(log(abs(datum.value)) / LN10 + 1e-9), '02d')",
      "titleFontSize": 27, "titleFont": "Liberation Sans", "titleFontWeight": "bold", "titleColor": "black", "titleX": -170, "titleY": 232, "titleAngle": -90, "titleAlign": "center", "titleBaseline": "alphabetic"}}
},
"layer": [
  {"mark": {"type": "line", "strokeWidth": 2},
   "encoding": {"color": {"field": "s", "type": "nominal",
     "scale": {"domain": ["1_Ans","10_Ans","50_Ans","500_Ans","1000_Ans","5000_Ans","10000_Ans"], "range": ["#000080","#FF00FF","#FFFF00","#008080","#CCFFFF","#99CCFF","#FF99CC"]},
     "legend": {"title": null, "orient": "none", "legendX": 537, "legendY": -60, "direction": "vertical", "columns": 1, "padding": 14, "rowPadding": 24, "clipHeight": 56, "strokeColor": "black", "fillColor": "white", "labelFontSize": 24, "labelFont": "Liberation Sans", "labelColor": "black", "labelOffset": 6, "labelLimit": 400, "symbolSize": 2704, "symbolStrokeWidth": 2,
       "encode": {"symbols": {"update": {
         "shape": {"signal": "datum.value === '1_Ans' ? 'M-1,0H1M0,-0.25L0.25,0L0,0.25L-0.25,0Z' : datum.value === '10_Ans' ? 'M-1,0H1M-0.21,-0.21H0.21V0.21H-0.21Z' : datum.value === '50_Ans' ? 'M-1,0H1M0,-0.27L0.25,0.2H-0.25Z' : datum.value === '500_Ans' ? 'M-1,0H1M0,-0.26V0.26' : datum.value === '1000_Ans' ? 'M-1,0H1M0,-0.26L0.26,0L0,0.26L-0.26,0Z' : datum.value === '5000_Ans' ? 'M-1,0H1M-0.2,-0.2L0.2,0.2M-0.2,0.2L0.2,-0.2' : 'M-1,0H1M-0.2,-0.2L0.2,0.2M-0.2,0.2L0.2,-0.2M0,-0.27V0.27'"},
         "size": {"value": 2704}, "strokeWidth": {"value": 2},
         "fill": {"scale": "color", "field": "value"}, "stroke": {"scale": "color", "field": "value"},
         "opacity": {"value": 1}, "fillOpacity": {"value": 1}, "strokeOpacity": {"value": 1}}}}}}}},
  {"transform": [{"filter": {"field": "s", "equal": "1_Ans"}}], "mark": {"type": "point", "shape": "M0,-0.9L0.9,0L0,0.9L-0.9,0Z", "filled": true, "fill": "#000080", "stroke": "#000080", "strokeWidth": 2, "size": 144, "opacity": 1}},
  {"transform": [{"filter": {"field": "s", "equal": "10_Ans"}}], "mark": {"type": "point", "shape": "M-0.8,-0.8H0.8V0.8H-0.8Z", "filled": true, "fill": "#FF00FF", "stroke": "#FF00FF", "strokeWidth": 2, "size": 144, "opacity": 1}},
  {"transform": [{"filter": {"field": "s", "equal": "50_Ans"}}], "mark": {"type": "point", "shape": "M0,-1L0.95,0.75H-0.95Z", "filled": true, "fill": "#FFFF00", "stroke": "#FFFF00", "strokeWidth": 2, "size": 144, "opacity": 1}},
  {"transform": [{"filter": {"field": "s", "equal": "500_Ans"}}], "mark": {"type": "point", "shape": "M-1.1,0H1.1M0,-1.1V1.1", "filled": true, "fill": "#008080", "stroke": "#008080", "strokeWidth": 2.2, "size": 144, "opacity": 1}},
  {"transform": [{"filter": {"field": "s", "equal": "1000_Ans"}}], "mark": {"type": "point", "shape": "M0,-1.1L1.1,0L0,1.1L-1.1,0Z", "filled": true, "fill": "#CCFFFF", "stroke": "#CCFFFF", "strokeWidth": 2, "size": 169, "opacity": 1}},
  {"transform": [{"filter": {"field": "s", "equal": "5000_Ans"}}], "mark": {"type": "point", "shape": "M-1,-1L1,1M-1,1L1,-1", "filled": true, "fill": "#99CCFF", "stroke": "#99CCFF", "strokeWidth": 2.6, "size": 169, "opacity": 1}},
  {"transform": [{"filter": {"field": "s", "equal": "10000_Ans"}}], "mark": {"type": "point", "shape": "M-1,-1L1,1M-1,1L1,-1M0,-1.2V1.2", "filled": true, "fill": "#FF99CC", "stroke": "#FF99CC", "strokeWidth": 2.8, "size": 196, "opacity": 1}}
],
"config": {"view": {"stroke": "#404040", "strokeWidth": 1}, "font": "Liberation Sans"}
}
